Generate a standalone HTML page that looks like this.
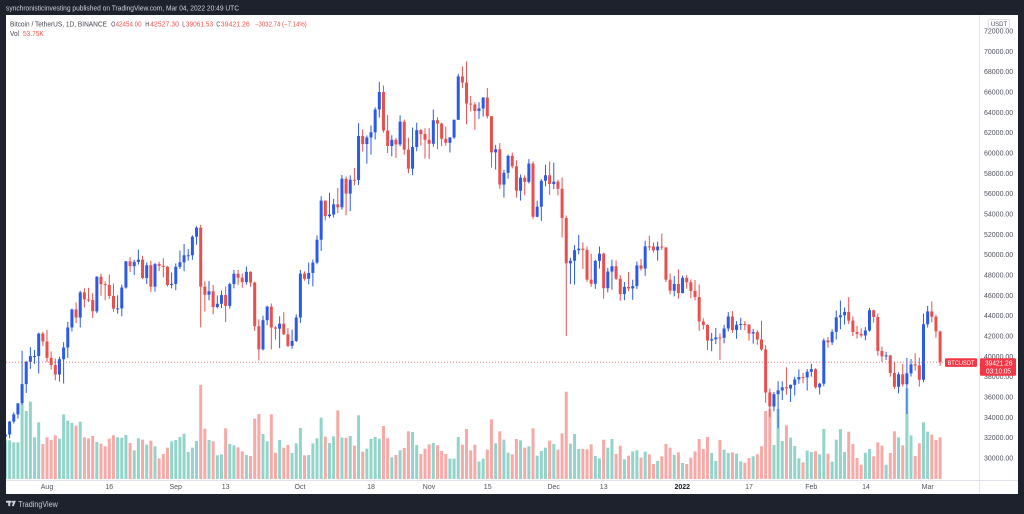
<!DOCTYPE html>
<html><head><meta charset="utf-8">
<style>
html,body{margin:0;padding:0;background:#1e222d;overflow:hidden;}
svg{display:block;font-family:"Liberation Sans",sans-serif;}
</style></head><body>
<svg id="c" width="1024" height="514" viewBox="0 0 1024 514" xmlns="http://www.w3.org/2000/svg">
<defs><clipPath id="pc"><rect x="6" y="15" width="973" height="465"/></clipPath></defs>
<rect width="1024" height="514" fill="#1e222d"/>
<rect x="6" y="15" width="1012" height="479" fill="#ffffff"/>
<text x="6" y="10.5" font-size="7" fill="#d1d4dc" textLength="233" lengthAdjust="spacingAndGlyphs">synchronisticinvesting published on TradingView.com, Mar 04, 2022 20:49 UTC</text>

<g id="vol" clip-path="url(#pc)"></g>
<g id="cdl" clip-path="url(#pc)"></g>
<line x1="6" y1="362.2" x2="945" y2="362.2" stroke="#ef5350" stroke-width="1" stroke-dasharray="1,2" opacity="0.75"/>

<!-- axes separators -->
<line x1="979.5" y1="15" x2="979.5" y2="494" stroke="#e0e3eb" stroke-width="1"/>
<line x1="6" y1="480.5" x2="1018" y2="480.5" stroke="#e0e3eb" stroke-width="1"/>

<!-- legend -->
<g font-size="7">
<text x="10" y="26.5" fill="#434651" textLength="97" lengthAdjust="spacingAndGlyphs">Bitcoin / TetherUS, 1D, BINANCE</text>
<text x="111.2" y="26.5" fill="#434651" textLength="4" lengthAdjust="spacingAndGlyphs">O</text>
<text x="115.6" y="26.5" fill="#ef5350" textLength="26" lengthAdjust="spacingAndGlyphs">42454.00</text>
<text x="145.3" y="26.5" fill="#434651" textLength="4" lengthAdjust="spacingAndGlyphs">H</text>
<text x="150" y="26.5" fill="#ef5350" textLength="29" lengthAdjust="spacingAndGlyphs">42527.30</text>
<text x="182.3" y="26.5" fill="#434651" textLength="3" lengthAdjust="spacingAndGlyphs">L</text>
<text x="185.8" y="26.5" fill="#ef5350" textLength="27.3" lengthAdjust="spacingAndGlyphs">39061.53</text>
<text x="216.4" y="26.5" fill="#434651" textLength="3.8" lengthAdjust="spacingAndGlyphs">C</text>
<text x="220.8" y="26.5" fill="#ef5350" textLength="29" lengthAdjust="spacingAndGlyphs">39421.26</text>
<text x="255" y="26.5" fill="#ef5350" textLength="51.7" lengthAdjust="spacingAndGlyphs">−3032.74 (−7.14%)</text>
<text x="10" y="35.8" fill="#434651" textLength="9" lengthAdjust="spacingAndGlyphs">Vol</text>
<text x="23" y="35.8" fill="#ef5350" textLength="20.7" lengthAdjust="spacingAndGlyphs">53.75K</text>
</g>

<!-- price axis labels -->
<g font-size="7" fill="#50535e">
<text x="984" y="33.5">72000.00</text>
<text x="984" y="53.8">70000.00</text>
<text x="984" y="74.2">68000.00</text>
<text x="984" y="94.5">66000.00</text>
<text x="984" y="114.8">64000.00</text>
<text x="984" y="135.2">62000.00</text>
<text x="984" y="155.5">60000.00</text>
<text x="984" y="175.8">58000.00</text>
<text x="984" y="196.2">56000.00</text>
<text x="984" y="216.5">54000.00</text>
<text x="984" y="236.8">52000.00</text>
<text x="984" y="257.2">50000.00</text>
<text x="984" y="277.5">48000.00</text>
<text x="984" y="297.8">46000.00</text>
<text x="984" y="318.2">44000.00</text>
<text x="984" y="338.5">42000.00</text>
<text x="984" y="358.8">40000.00</text>
<text x="984" y="379.2">38000.00</text>
<text x="984" y="399.5">36000.00</text>
<text x="984" y="419.8">34000.00</text>
<text x="984" y="440.2">32000.00</text>
<text x="984" y="460.5">30000.00</text>
</g>
<rect x="988.5" y="19.5" width="21" height="8.5" fill="#ffffff" stroke="#d6d8de" stroke-width="0.8" rx="1"/>
<text x="999" y="26.2" font-size="6" fill="#50535e" text-anchor="middle">USDT</text>

<!-- last price labels -->
<rect x="945" y="358.3" width="32" height="8.6" fill="#f23645" rx="1"/>
<text x="961" y="365" font-size="6" fill="#ffffff" text-anchor="middle" textLength="27" lengthAdjust="spacingAndGlyphs">BTCUSDT</text>
<rect x="980" y="358.3" width="36" height="17.5" fill="#f23645" rx="1"/>
<text x="985" y="365.6" font-size="7" fill="#ffffff" textLength="27.5" lengthAdjust="spacingAndGlyphs">39421.26</text>
<text x="986" y="373.4" font-size="7" fill="#ffffff" textLength="25" lengthAdjust="spacingAndGlyphs">03:10:05</text>

<!-- time axis labels -->
<g font-size="7" fill="#50535e" text-anchor="middle">
<text x="47" y="489">Aug</text>
<text x="109.3" y="489">16</text>
<text x="175.7" y="489">Sep</text>
<text x="225.7" y="489">13</text>
<text x="300" y="489">Oct</text>
<text x="371" y="489">18</text>
<text x="429" y="489">Nov</text>
<text x="487.7" y="489">15</text>
<text x="553.7" y="489">Dec</text>
<text x="603.7" y="489">13</text>
<text x="682.3" y="489" font-weight="bold" fill="#131722">2022</text>
<text x="749" y="489">17</text>
<text x="811.3" y="489">Feb</text>
<text x="866" y="489">14</text>
<text x="927.7" y="489">Mar</text>
</g>

<!-- footer logo -->
<g fill="#d1d4dc">
<rect x="6" y="500.8" width="5.2" height="1.9"/>
<rect x="8.3" y="500.8" width="1.9" height="5.3"/>
<circle cx="12.4" cy="501.8" r="1"/>
<polygon points="13.6,500.8 15.9,500.8 13.7,506.1 11.9,506.1"/>
</g>
<text x="18.3" y="506.8" font-size="8" fill="#c9ccd4" textLength="39.5" lengthAdjust="spacingAndGlyphs">TradingView</text>
</svg>
<script>
(function(){
var D=[
31.04,29.28,29.79, 32.86,29.48,32.11, 32.58,31.71,32.31, 33.65,31.95,33.58, 34.50,33.40,34.29, 35.40,33.88,35.38,
40.55,35.21,37.27, 39.54,36.40,39.46, 40.90,38.77,40.02, 40.63,39.27,40.03, 42.32,38.32,42.24, 42.41,41.03,41.46,
42.60,39.42,39.85, 40.49,38.69,39.15, 39.78,37.64,38.21, 39.97,37.51,39.72, 41.40,37.33,40.87, 43.39,39.85,42.84,
44.70,42.45,44.61, 45.31,43.26,43.82, 46.45,42.84,46.29, 46.70,44.80,45.60, 46.74,45.35,45.55, 46.22,43.77,44.43,
47.89,44.25,47.83, 48.14,45.96,47.10, 47.37,45.52,47.02, 48.05,45.66,45.94, 47.16,44.38,44.69, 46.00,44.20,44.72,
47.05,43.93,46.77, 49.38,46.65,49.34, 49.76,48.30,48.87, 49.50,48.00,49.29, 50.50,49.03,49.51, 49.88,47.60,47.71,
49.23,47.12,48.96, 49.40,46.32,46.85, 49.18,46.36,49.07, 49.31,48.38,48.90, 49.65,47.76,48.81, 48.91,46.86,47.02,
48.25,46.69,47.13,
49.14,46.51,48.81, 50.40,48.59,49.25, 51.05,48.37,49.94, 50.56,49.41,49.94, 51.90,49.50,51.77, 52.80,50.97,52.66,
52.92,42.84,46.86, 47.38,44.41,46.06, 47.40,45.51,46.40, 47.03,44.13,44.85, 45.99,44.72,45.17, 46.46,44.74,46.03,
46.88,43.37,44.96, 47.25,44.69,47.11, 48.49,46.69,48.12, 48.50,47.03,47.74, 48.16,46.75,47.30, 48.84,47.04,48.31,
48.37,46.85,47.26, 47.34,42.50,42.96, 43.64,39.60,40.69, 44.00,40.57,43.56, 44.98,43.07,44.89, 45.20,40.68,42.84,
42.97,41.65,42.72, 43.94,40.80,43.21, 44.35,42.10,42.17, 42.79,40.90,41.03, 42.63,40.75,41.52, 44.13,41.41,43.82,
48.50,43.28,48.14, 48.36,47.44,47.63, 49.23,47.09,48.20, 49.53,46.89,49.22, 51.89,49.06,51.47, 55.75,50.38,55.32,
55.33,53.36,53.79, 56.10,53.62,53.95, 55.49,53.66,54.95, 56.56,54.09,54.66, 57.84,54.42,57.47, 57.68,53.88,56.01,
57.80,54.28,57.37, 58.53,56.82,57.35, 62.93,56.85,61.67, 62.33,60.15,60.88, 61.72,58.96,61.53, 62.70,59.84,62.04,
64.49,61.32,64.28, 67.00,63.48,66.00, 66.64,62.00,62.21, 63.73,60.00,60.69, 61.75,59.67,61.30, 61.49,59.51,60.85,
63.71,60.66,63.08, 63.29,59.82,60.33, 61.50,58.00,58.46, 62.50,57.82,60.59, 62.98,60.17,62.25, 62.36,60.72,61.86,
62.44,59.46,61.30,
62.44,59.41,60.91, 64.27,60.62,63.22, 63.52,60.38,62.90, 62.98,60.67,61.40, 62.60,60.72,61.00, 61.56,60.05,61.53,
63.29,61.38,63.27, 67.79,63.27,67.53, 68.53,66.38,66.93, 69.00,62.82,64.86, 65.60,64.10,64.77, 65.00,62.28,64.13,
64.99,63.36,64.38, 65.49,63.58,65.46, 66.40,63.40,63.62, 63.62,58.57,60.06, 60.80,58.37,60.37, 60.98,56.47,56.89,
58.35,55.61,58.05, 59.85,57.47,59.72, 60.05,58.48,58.70, 59.29,55.61,56.29, 57.88,55.32,57.57, 57.80,55.84,57.16,
59.40,57.00,58.96, 59.17,53.50,53.73, 55.32,53.67,54.72, 57.44,53.33,57.27, 58.86,56.73,57.81, 59.17,55.88,56.95,
59.05,56.46,57.18, 57.38,55.84,56.48, 57.60,51.68,53.60, 53.86,42.00,49.15, 49.70,47.10,49.40, 50.94,47.05,50.44,
51.94,50.04,50.59, 51.20,48.60,50.47, 50.80,47.32,47.54, 50.10,46.85,47.14, 49.49,46.64,49.39, 50.80,48.64,50.10,
50.20,45.67,46.70, 48.70,46.29,48.34, 49.50,46.55,48.86, 49.44,47.51,47.63, 48.00,45.46,46.13, 47.31,45.52,46.83,
48.30,46.41,46.68, 47.54,45.56,46.91, 49.33,46.63,48.94, 49.58,48.42,48.63, 51.37,47.92,50.82, 51.87,50.40,50.81,
51.20,50.20,50.43, 51.28,49.41,50.80, 52.09,50.45,50.72, 50.72,47.31,47.54, 48.14,46.10,46.46, 47.90,45.90,47.12,
48.55,45.68,46.22,
47.95,46.20,47.72, 47.99,46.65,47.29, 47.57,45.70,46.44, 47.51,45.50,45.83, 47.07,42.50,43.43, 43.75,42.65,43.08,
43.15,40.61,41.55, 42.30,40.50,41.68, 42.79,41.20,41.86, 42.25,39.65,41.82, 43.10,41.27,42.74, 44.35,42.45,43.92,
44.46,42.31,42.59, 43.46,41.73,43.10, 43.80,42.60,43.18, 43.48,42.58,43.11, 43.18,41.54,42.25, 42.70,41.25,42.38,
42.57,41.14,41.66, 43.50,40.55,40.68, 41.10,35.44,36.45, 36.83,34.01,35.07, 36.50,34.60,36.28, 37.55,32.92,36.65,
37.55,35.70,36.95, 38.92,36.23,36.84, 37.23,35.51,37.19, 38.00,36.15,37.73, 38.72,37.30,37.96, 38.36,37.35,37.93,
38.75,36.63,38.48,
39.27,38.00,38.74, 38.83,36.83,36.95, 37.39,36.25,37.31, 41.77,37.05,41.57, 41.91,40.84,41.38, 42.66,41.12,42.41,
44.50,41.65,43.84, 45.49,42.67,44.04, 44.80,43.12,44.37, 45.82,43.19,43.51, 43.92,42.00,42.39, 43.00,41.75,42.21,
42.75,41.85,42.05, 42.88,41.57,42.54, 44.77,42.43,44.54, 44.58,43.31,43.87, 44.20,40.07,40.52, 40.96,39.45,40.00,
40.44,39.64,40.09, 40.14,38.00,38.36, 39.50,36.81,37.01, 38.44,36.35,38.23, 39.25,37.04,37.25, 39.84,34.32,38.33,
39.73,38.01,39.21, 40.30,38.59,39.10, 39.86,37.02,37.70, 44.22,37.45,43.16,
44.95,42.83,44.42, 45.40,43.33,43.89, 44.10,41.83,42.45, 42.527,39.06,39.421
];
var V=[200,200,196,
196,202,202,88,108,80,187,142,207,187, 195,181,191,118,137,144,152,140,187,190, 183,201,206,214,191,181,187,188,180,204, 226,190,194,209,197,214,250,237,218,199, 195,186,176,231,218,198,30,161,195,199, 241,238,160,207,211,217,229,240,243,131, 117,177,199,118,233,195,218,210,234,205, 159,241,240,205,
190,128,185,204,184,106,188,188,183,212, 121,230,221,192,186,191,153,190,247,240, 226,219,169,171,210,237,221,208,204,211, 228,237,251,251,186,209,162,226,209,260, 251,224,133,205,169,194,233,238,192,196, 218,214,160,242,228,218,197,207,224,175, 50,206,177,222,222,223,208,243,250,194, 218,192,237,212,253,242,
229,226,248,230,238,267,258,244,207,218, 240,232,264,267,248,229,192,222,186,234, 258,195,224,234,232,236,259,263,249,244, 238,214,108,101,210,102,198,151,188,213, 250,262,227,231,229,238,162,236,260,194, 162,231,170,207,249,269,233,222,244,202, 212,269,234,169,187,211,40,181,243,205, 142,170,179,195,187];
var NS="http://www.w3.org/2000/svg";
var gv=document.getElementById("vol"), gc=document.getElementById("cdl");
function Y(p){return 31+(72-p)*10.167;}
function el(g,tag,attrs){var e=document.createElementNS(NS,tag);for(var k in attrs)e.setAttribute(k,attrs[k]);g.appendChild(e);return e;}
var n=D.length/3, prev=30.84;
var UP="#2b5be6", DN="#e8504d", VUP="#93d4ca", VDN="#f6a9a6";
for(var i=0;i<n;i++){
  var h=D[i*3], l=D[i*3+1], c=D[i*3+2];
  var o=(i==n-1)?42.454:prev;
  prev=c;
  var x=47+(i-12)*4.154;
  var up=c>=o;
  if(i<V.length){
    var top=375+V[i]/3;
    el(gv,"rect",{x:(x-1.5).toFixed(2),y:top.toFixed(2),width:3,height:(479-top).toFixed(2),fill:up?VUP:VDN});
  }
  var col=up?UP:DN;
  el(gc,"line",{x1:x.toFixed(2),x2:x.toFixed(2),y1:Y(h).toFixed(2),y2:Y(l).toFixed(2),stroke:col,"stroke-width":1});
  var yt=Y(Math.max(o,c)), yb=Y(Math.min(o,c));
  var hh=Math.max(1,yb-yt);
  el(gc,"rect",{x:(x-1.5).toFixed(2),y:yt.toFixed(2),width:3,height:hh.toFixed(2),fill:col});
}
})();
</script>
</body></html>
